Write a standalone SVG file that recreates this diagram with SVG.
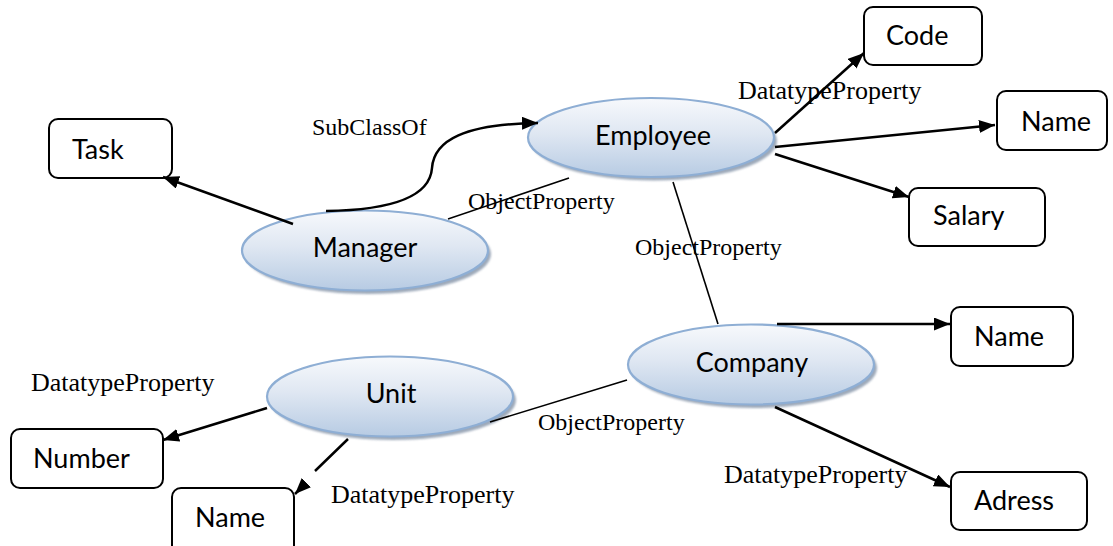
<svg xmlns="http://www.w3.org/2000/svg" width="1113" height="546" viewBox="0 0 1113 546">
  <defs>
    <linearGradient id="classFill" x1="0" y1="0" x2="0" y2="1">
      <stop offset="0" stop-color="#f7f9fc"/>
      <stop offset="0.45" stop-color="#dfe7f2"/>
      <stop offset="1" stop-color="#b7cbe3"/>
    </linearGradient>
    <filter id="soft" x="-10%" y="-20%" width="120%" height="140%">
      <feGaussianBlur stdDeviation="1.2"/>
    </filter>
    <marker id="head" markerUnits="userSpaceOnUse" markerWidth="18" markerHeight="14" refX="16" refY="6.5" orient="auto">
      <path d="M0,0 L16,6.5 L0,13 Z" fill="#000"/>
    </marker>
  </defs>
  <style>
    .shadow { fill: #7d8da3; opacity: 0.75; filter: url(#soft); }
    .cls { fill: url(#classFill); stroke: #8eaed4; stroke-width: 2.2; }
    .box { fill: #fff; stroke: #000; stroke-width: 2; }
    .name { font-family: Lato, "Liberation Sans", sans-serif; font-size: 27px; fill: #000; }
    .mid { text-anchor: middle; }
    .lbl { font-family: "Liberation Serif", "Times New Roman", serif; fill: #000; }
    .arrow { fill: none; stroke: #000; stroke-width: 2.5; marker-end: url(#head); }
    .thin { fill: none; stroke: #000; stroke-width: 1.6; }
  </style>
  <rect width="1113" height="546" fill="#fff"/>

  <!-- class nodes -->
  <g id="employee">
    <ellipse class="shadow" cx="654" cy="141" rx="123" ry="39.5"/>
    <ellipse class="cls" cx="651" cy="137.5" rx="123" ry="39.5"/>
    <text class="name mid" x="653" y="145">Employee</text>
  </g>
  <g id="manager">
    <ellipse class="shadow" cx="368" cy="254" rx="123" ry="40"/>
    <ellipse class="cls" cx="365" cy="250.5" rx="123" ry="40"/>
    <text class="name mid" x="365" y="257">Manager</text>
  </g>
  <g id="company">
    <ellipse class="shadow" cx="754" cy="368" rx="123" ry="40"/>
    <ellipse class="cls" cx="751" cy="364.5" rx="123" ry="40"/>
    <text class="name mid" x="752" y="372">Company</text>
  </g>
  <g id="unit">
    <ellipse class="shadow" cx="393" cy="400" rx="123" ry="40"/>
    <ellipse class="cls" cx="390" cy="396.5" rx="123" ry="40"/>
    <text class="name mid" x="391" y="403">Unit</text>
  </g>

  <!-- property boxes -->
  <g id="task">
    <rect class="box" x="49" y="119" width="123" height="59" rx="9"/>
    <text class="name" x="72" y="159">Task</text>
  </g>
  <g id="code">
    <rect class="box" x="864" y="7" width="118" height="58" rx="9"/>
    <text class="name" x="886" y="45">Code</text>
  </g>
  <g id="employee-name">
    <rect class="box" x="997" y="91" width="110" height="59" rx="9"/>
    <text class="name" x="1021" y="131">Name</text>
  </g>
  <g id="salary">
    <rect class="box" x="909" y="188" width="136" height="58" rx="9"/>
    <text class="name" x="933" y="225">Salary</text>
  </g>
  <g id="company-name">
    <rect class="box" x="951" y="307" width="122" height="59" rx="9"/>
    <text class="name" x="974" y="346">Name</text>
  </g>
  <g id="adress">
    <rect class="box" x="951" y="472" width="136" height="58" rx="9"/>
    <text class="name" x="974" y="510">Adress</text>
  </g>
  <g id="number">
    <rect class="box" x="11" y="429" width="152" height="59" rx="9"/>
    <text class="name" x="33" y="468">Number</text>
  </g>
  <g id="unit-name">
    <rect class="box" x="172" y="488" width="122" height="70" rx="9"/>
    <text class="name" x="195" y="527">Name</text>
  </g>

  <!-- connectors -->
  <g id="connectors">
    <path class="arrow" d="M293,224 L163,177"/>
    <path class="arrow" d="M326,211 C395,210 430,196 432,168 C434,140 465,124 538,123"/>
    <path class="thin" d="M448,219 L569,178"/>
    <path class="arrow" d="M775,133 L864,53"/>
    <path class="arrow" d="M775,147 L995,125"/>
    <path class="arrow" d="M775,154 L909,197"/>
    <path class="thin" d="M673,182 L718,324"/>
    <path class="arrow" d="M777,324 L950,324"/>
    <path class="arrow" d="M775,407 L950,487"/>
    <path class="thin" d="M627,380 L490,422"/>
    <path class="arrow" d="M267,408 L163,440"/>
    <path class="arrow" d="M348,439 L315,471 M305,484 L295,494"/>
  </g>

  <!-- edge labels -->
  <g id="labels">
    <text class="lbl" x="312" y="135" font-size="24">SubClassOf</text>
    <text class="lbl" x="468" y="209" font-size="24">ObjectProperty</text>
    <text class="lbl" x="738" y="99" font-size="26">DatatypeProperty</text>
    <text class="lbl" x="635" y="255" font-size="24">ObjectProperty</text>
    <text class="lbl" x="538" y="430" font-size="24">ObjectProperty</text>
    <text class="lbl" x="31" y="391" font-size="26">DatatypeProperty</text>
    <text class="lbl" x="331" y="503" font-size="26">DatatypeProperty</text>
    <text class="lbl" x="724" y="483" font-size="26">DatatypeProperty</text>
  </g>
</svg>
